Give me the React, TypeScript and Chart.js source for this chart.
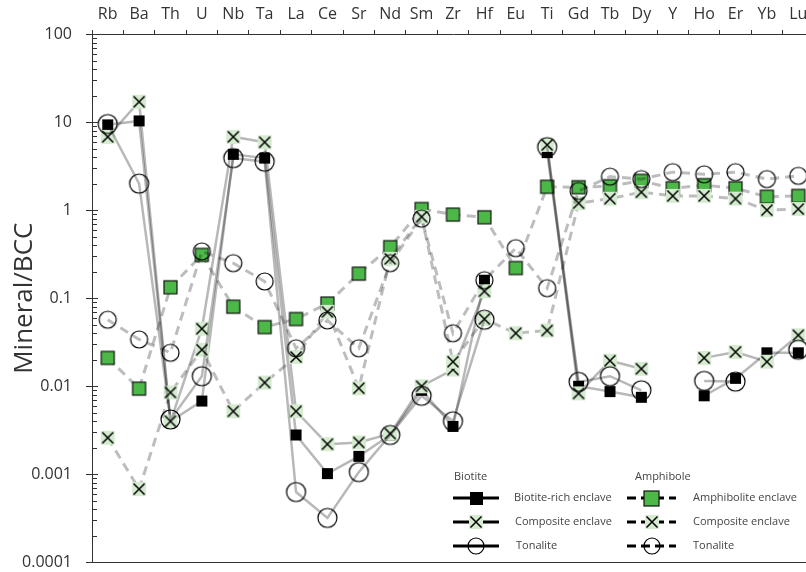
import React, { useEffect, useRef } from "react";
import { Chart, registerables } from "chart.js";
Chart.register(...registerables);

const elements = ["Rb","Ba","Th","U","Nb","Ta","La","Ce","Sr","Nd","Sm","Zr","Hf","Eu","Ti","Gd","Tb","Dy","Y","Ho","Er","Yb","Lu"];

const yTickLabels = ["100", "10", "1", "0.1", "0.01", "0.001", "0.0001"];

// Biotite (solid lines)
const biotiteRich = [9.3, 10.3, 0.004, 0.0068, 4.3, 3.9, 0.0028, 0.00102, 0.0016, 0.0028, 0.009, 0.0035, 0.16, null, 4.5, 0.01, 0.0087, 0.0075, null, 0.0078, 0.0123, 0.024, 0.024];
const biotiteComposite = [6.8, 17, 0.004, 0.045, 6.8, 5.9, 0.0052, 0.0022, 0.0023, 0.0029, 0.01, 0.0155, 0.12, null, 5.5, 0.0083, 0.0195, 0.0158, null, 0.021, 0.0245, 0.019, 0.038];
const biotiteTonalite = [9.5, 2.0, 0.0042, 0.013, 3.9, 3.55, 0.00063, 0.00032, 0.00106, 0.0028, 0.0078, 0.004, 0.057, null, 5.2, 0.0112, 0.013, 0.009, null, 0.0115, 0.0113, null, 0.026];

// Amphibole (dashed lines)
const amphEnclave = [0.021, 0.0094, 0.133, 0.31, 0.08, 0.047, 0.058, 0.087, 0.19, 0.38, 1.03, 0.89, 0.83, 0.22, 1.84, 1.82, 1.87, 2.15, 1.77, 1.92, 1.77, 1.42, 1.45];
const amphComposite = [0.0026, 0.00068, 0.0085, 0.026, 0.0052, 0.011, 0.0215, 0.07, 0.0095, 0.28, 0.84, 0.019, 0.058, 0.04, 0.043, 1.2, 1.35, 1.6, 1.45, 1.45, 1.35, 1.0, 1.03];
const amphTonalite = [0.057, 0.034, 0.024, 0.34, 0.25, 0.155, 0.027, 0.056, 0.027, 0.25, 0.8, 0.04, 0.16, 0.37, 0.13, 1.65, 2.4, 2.25, 2.7, 2.55, 2.7, 2.25, 2.45];

const FONT = "'Open Sans', 'DejaVu Sans', sans-serif";
const TEXT = "#333333";
const GREEN = "#4cb848";
const PALE = "#d5ecd0";

function makeMarker(kind: string, size: number): HTMLCanvasElement {
  const s = Math.ceil(size) + 4;
  const c = document.createElement("canvas");
  c.width = s;
  c.height = s;
  const g = c.getContext("2d")!;
  const m = s / 2;
  const h = size / 2;
  if (kind === "black") {
    g.fillStyle = "#000";
    g.fillRect(m - h, m - h, size, size);
  } else if (kind === "green") {
    g.fillStyle = GREEN;
    g.fillRect(m - h, m - h, size, size);
    g.strokeStyle = "#111";
    g.lineWidth = 1.2;
    g.strokeRect(m - h, m - h, size, size);
  } else if (kind === "x") {
    g.fillStyle = PALE;
    g.fillRect(m - h, m - h, size, size);
    const k = h - 1.5;
    g.strokeStyle = "#000";
    g.lineWidth = 1.5;
    g.beginPath();
    g.moveTo(m - k, m - k);
    g.lineTo(m + k, m + k);
    g.moveTo(m + k, m - k);
    g.lineTo(m - k, m + k);
    g.stroke();
  } else if (kind === "circle") {
    g.strokeStyle = "#000";
    g.lineWidth = 1.2;
    g.beginPath();
    g.arc(m, m, h, 0, Math.PI * 2);
    g.stroke();
  }
  return c;
}

export default function App() {
  const ref = useRef<HTMLCanvasElement | null>(null);

  useEffect(() => {
    if (!ref.current) return;
    const mk = {
      black: makeMarker("black", 11),
      green: makeMarker("green", 13),
      x: makeMarker("x", 14),
      circleB: makeMarker("circle", 19),
      circleA: makeMarker("circle", 17),
      lBlack: makeMarker("black", 13),
      lGreen: makeMarker("green", 15),
      lX: makeMarker("x", 14),
      lCircle: makeMarker("circle", 16),
    };

    const solid = "rgba(0,0,0,0.28)";
    const dashed = "rgba(0,0,0,0.26)";

    const base = (label: string, data: (number | null)[], style: HTMLCanvasElement, isDash: boolean, order: number) => ({
      label,
      data,
      borderColor: isDash ? dashed : solid,
      borderWidth: isDash ? 3 : 2.5,
      borderDash: isDash ? [9, 6] : [],
      pointStyle: style,
      pointRadius: 8,
      pointHoverRadius: 8,
      backgroundColor: "transparent",
      spanGaps: false,
      tension: 0,
      order,
    });

    const datasets = [
      base("Biotite-rich enclave", biotiteRich, mk.black, false, 5),
      base("Amphibolite enclave", amphEnclave, mk.green, true, 4),
      base("Composite enclave (Biotite)", biotiteComposite, mk.x, false, 3),
      base("Composite enclave (Amphibole)", amphComposite, mk.x, true, 2),
      base("Tonalite (Biotite)", biotiteTonalite, mk.circleB, false, 1),
      base("Tonalite (Amphibole)", amphTonalite, mk.circleA, true, 0),
    ];

    const extras = {
      id: "extras",
      afterDraw(chart: any) {
        const ctx = chart.ctx;
        const y = chart.scales.y;
        const area = chart.chartArea;
        ctx.save();
        ctx.strokeStyle = TEXT;
        ctx.lineWidth = 1;
        // y ticks
        for (let d = -4; d <= 2; d++) {
          const py = Math.round(y.getPixelForValue(Math.pow(10, d))) + 0.5;
          ctx.beginPath();
          ctx.moveTo(area.left - 6, py);
          ctx.lineTo(area.left + 6, py);
          ctx.stroke();
          if (d < 2) {
            for (let m = 2; m <= 9; m++) {
              const pm = Math.round(y.getPixelForValue(m * Math.pow(10, d))) + 0.5;
              ctx.beginPath();
              ctx.moveTo(area.left, pm);
              ctx.lineTo(area.left + 5, pm);
              ctx.stroke();
            }
          }
        }
        // bottom border
        ctx.beginPath();
        ctx.moveTo(area.left, Math.round(area.bottom) + 0.5);
        ctx.lineTo(chart.width, Math.round(area.bottom) + 0.5);
        ctx.stroke();

        // legend
        const drawRow = (x0: number, x1: number, cy: number, dash: boolean, img: HTMLCanvasElement, text: string, tx: number) => {
          ctx.save();
          ctx.strokeStyle = "#000";
          ctx.lineWidth = 3;
          ctx.setLineDash(dash ? [9, 5] : []);
          ctx.beginPath();
          ctx.moveTo(x0, cy);
          ctx.lineTo(x1, cy);
          ctx.stroke();
          ctx.restore();
          const cx = (x0 + x1) / 2;
          ctx.drawImage(img, Math.round(cx - img.width / 2), Math.round(cy - img.height / 2));
          ctx.fillStyle = "#444";
          ctx.font = `11px ${FONT}`;
          ctx.textAlign = "left";
          ctx.textBaseline = "middle";
          ctx.fillText(text, tx, cy);
        };
        ctx.fillStyle = "#444";
        ctx.font = `11px ${FONT}`;
        ctx.textAlign = "left";
        ctx.textBaseline = "middle";
        ctx.fillText("Biotite", 454, 477);
        ctx.fillText("Amphibole", 635, 477);
        const rows = [498, 522, 546];
        drawRow(453, 499, rows[0], false, mk.lBlack, "Biotite-rich enclave", 514);
        drawRow(453, 499, rows[1], false, mk.lX, "Composite enclave", 515);
        drawRow(453, 499, rows[2], false, mk.lCircle, "Tonalite", 516);
        drawRow(627, 676, rows[0], true, mk.lGreen, "Amphibolite enclave", 693);
        drawRow(627, 676, rows[1], true, mk.lX, "Composite enclave", 693);
        drawRow(627, 676, rows[2], true, mk.lCircle, "Tonalite", 693);
        ctx.restore();
      },
    };

    const chart = new Chart(ref.current, {
      type: "line",
      data: { labels: elements, datasets: datasets as any },
      options: {
        animation: false,
        responsive: false,
        devicePixelRatio: 1,
        layout: { padding: { left: 0, right: 26, top: 0, bottom: 0 } },
        plugins: { legend: { display: false }, tooltip: { enabled: false } },
        scales: {
          x: {
            type: "category",
            position: "top",
            offset: true,
            afterFit: (s: any) => { s.height = 34; },
            grid: { display: true, drawOnChartArea: false, drawTicks: true, tickLength: 4, color: TEXT, offset: true },
            border: { display: true, color: TEXT, width: 1 },
            ticks: { autoSkip: false, maxRotation: 0, padding: 6, color: TEXT, font: { family: FONT, size: 16 } },
          },
          y: {
            type: "logarithmic",
            position: "left",
            min: 0.0001,
            max: 100,
            afterFit: (s: any) => { s.width = 92; },
            grid: { display: false, drawTicks: true, tickLength: 18 },
            border: { display: true, color: TEXT, width: 1 },
            ticks: {
              autoSkip: false,
              padding: 2,
              color: TEXT,
              font: { family: FONT, size: 16 },
              callback: (v: any) => {
                const l = Math.log10(Number(v));
                if (Math.abs(l - Math.round(l)) > 1e-6) return "";
                const idx = 2 - Math.round(l);
                return yTickLabels[idx] ?? "";
              },
            },
            title: { display: true, text: "Mineral/BCC", color: TEXT, font: { family: FONT, size: 26 }, padding: { top: 9, bottom: 0 } },
          },
        },
      },
      plugins: [extras],
    });
    return () => chart.destroy();
  }, []);

  return (
    <div style={{ position: "absolute", left: 0, top: 0, width: 806, height: 572, overflow: "hidden", background: "#fff" }}>
      <canvas ref={ref} width={840} height={574} style={{ width: 840, height: 574, display: "block" }} />
    </div>
  );
}
